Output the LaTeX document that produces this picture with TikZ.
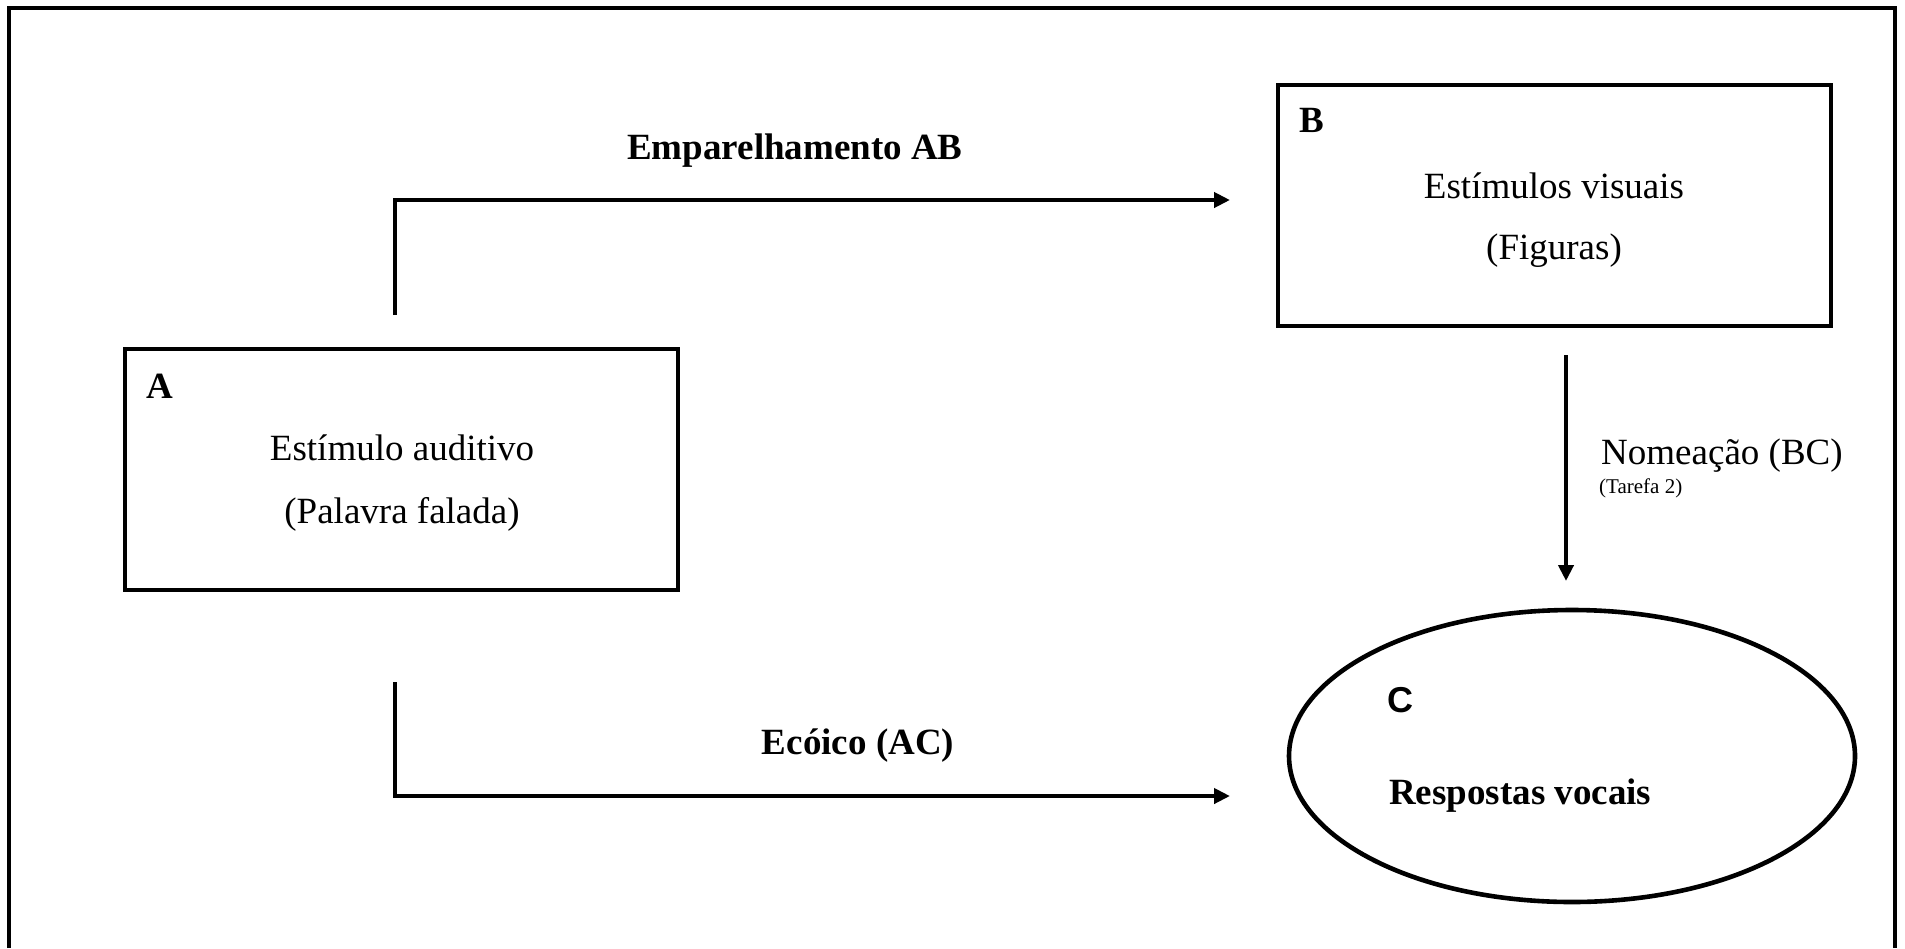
\documentclass[tikz,border=0pt]{standalone}
\usepackage{fontspec}
\setmainfont{Liberation Serif}
\newfontfamily\sansfont{Liberation Sans}
\usetikzlibrary{arrows.meta,shapes.geometric}
\tikzset{
  frameline/.style={line width=3.4pt},
  boxshape/.style={draw,line width=4pt,minimum width=553pt,minimum height=241pt,inner sep=0pt},
  ovalshape/.style={draw,ellipse,line width=4.6pt,minimum width=566pt,minimum height=292pt,inner sep=0pt},
  conn/.style={line width=4pt,-{Triangle[length=16pt,width=15pt]}},
  big/.style={font=\fontsize{37}{44}\selectfont,inner sep=0pt},
  bigb/.style={font=\fontsize{37}{44}\selectfont\bfseries,inner sep=0pt},
  small/.style={font=\fontsize{21}{25}\selectfont,inner sep=0pt},
  sansb/.style={font=\fontsize{36}{44}\selectfont\sansfont\bfseries,inner sep=0pt}
}
\begin{document}
\begin{tikzpicture}[x=1pt,y=-1pt]
\useasboundingbox (0,0) rectangle (1905,948);
% outer frame (open at bottom)
\draw[frameline] (9,948) -- (9,8) -- (1895,8) -- (1895,948);

% boxes
\node[boxshape] (A) at (401.5,469.5) {};
\node[boxshape] (B) at (1554,205) {};
\node[ovalshape] (C) at (1572,756) {};

% box texts
\node[bigb] (Alab) at (160,386) {A};
\node[big] (A1) at (402,448) {Estímulo auditivo};
\node[big] (A2) at (402,514) {(Palavra falada)};
\node[bigb] (Blab) at (1312,120) {B};
\node[big] (B1) at (1554,186) {Estímulos visuais};
\node[big] (B2) at (1554,251) {(Figuras)};
\node[sansb] (Clab) at (1400,700) {C};
\node[bigb,anchor=west] (C1) at (1389,796) {Respostas vocais};

% connector labels
\node[bigb] (lAB) at (795,151) {Emparelhamento AB};
\node[bigb] (lAC) at (858,746) {Ecóico (AC)};
\node[big,anchor=west] (lBC) at (1601,456) {Nomeação (BC)};
\node[small,anchor=west] (lBC2) at (1599,488) {(Tarefa 2)};

% connector end points
\coordinate (abStart) at (395,315);
\coordinate (abEnd) at (1230,200);
\coordinate (acStart) at (395,682);
\coordinate (acEnd) at (1230,796);
\coordinate (bcStart) at (1566,355);
\coordinate (bcEnd) at (1566,581);

\draw[conn] (abStart) |- (abEnd);
\draw[conn] (acStart) |- (acEnd);
\draw[conn] (bcStart) -- (bcEnd);
\end{tikzpicture}
\end{document}
